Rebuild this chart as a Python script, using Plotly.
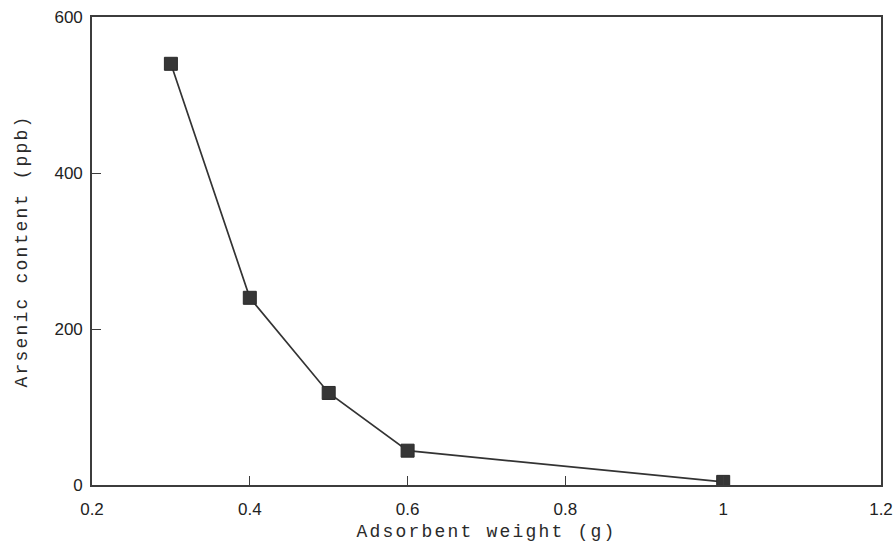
import plotly.graph_objects as go

# Adsorbent dose vs. residual arsenic
adsorbent_weight_g = [0.3, 0.4, 0.5, 0.6, 1.0]
arsenic_ppb = [540, 240, 118, 44, 4]

x_tick_vals = [0.2, 0.4, 0.6, 0.8, 1.0, 1.2]
x_tick_text = ["0.2", "0.4", "0.6", "0.8", "1", "1.2"]
y_tick_vals = [0, 200, 400, 600]
y_tick_text = ["0", "200", "400", "600"]

ink = "#333333"
mono = "Liberation Mono, Courier New, monospace"
sans = "Liberation Sans, Arial, sans-serif"

fig = go.Figure()
fig.add_trace(go.Scatter(
    x=adsorbent_weight_g,
    y=arsenic_ppb,
    mode="lines+markers",
    line=dict(color=ink, width=1.7),
    marker=dict(symbol="square", size=13, color="#363636",
                line=dict(color="#2a2a2a", width=1)),
    showlegend=False,
))

axis_common = dict(
    showgrid=False,
    zeroline=False,
    showline=True,
    linecolor="#3c3c3c",
    linewidth=1.6,
    mirror=True,
    ticks="inside",
    ticklen=9,
    tickwidth=1.4,
    tickcolor="#3c3c3c",
    tickfont=dict(family=sans, size=17, color="#222222"),
    automargin=False,
)

fig.update_xaxes(
    range=[0.2, 1.2],
    tickvals=x_tick_vals,
    ticktext=x_tick_text,
    ticklabelstandoff=8,
    title=dict(
        text='<span style="letter-spacing:2.2px">Adsorbent weight (g)</span>',
        font=dict(family=mono, size=18, color="#2a2a2a"),
        standoff=6,
    ),
    **axis_common,
)
fig.update_yaxes(
    range=[0, 600],
    tickvals=y_tick_vals,
    ticktext=y_tick_text,
    ticklabelstandoff=4,
    title=dict(
        text='<span style="letter-spacing:2.2px">Arsenic content (ppb)</span>',
        font=dict(family=mono, size=18, color="#2a2a2a"),
        standoff=22,
    ),
    **axis_common,
)

fig.update_layout(
    width=896,
    height=543,
    margin=dict(l=92, r=15, t=17, b=58),
    paper_bgcolor="white",
    plot_bgcolor="white",
)

fig.write_html("out.html")
